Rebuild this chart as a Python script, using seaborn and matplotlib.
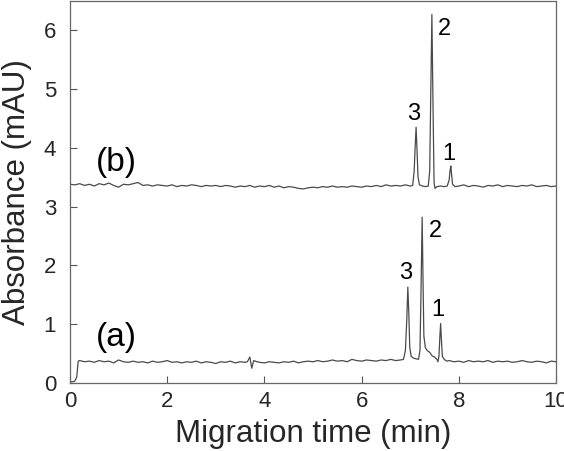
import matplotlib
matplotlib.use("Agg")
import matplotlib.pyplot as plt
import seaborn as sns
import pandas as pd

# trace (a): migration time (min) and absorbance (mAU)
time_a = [0.00, 0.05, 0.10, 0.14, 0.17, 0.20,
          0.3, 0.4, 0.5, 0.6, 0.7, 0.8, 0.9, 1.0, 1.1, 1.2, 1.3, 1.4, 1.5, 1.6, 1.7, 1.8, 1.9,
          2.0, 2.1, 2.2, 2.3, 2.4, 2.5, 2.6, 2.7, 2.8, 2.9, 3.0, 3.1, 3.2, 3.3, 3.4, 3.5, 3.6,
          3.65, 3.70, 3.74, 3.78, 3.85, 3.90,
          4.0, 4.1, 4.2, 4.3, 4.4, 4.5, 4.6, 4.7, 4.8, 4.9, 5.0, 5.1, 5.2, 5.3, 5.4, 5.5, 5.6,
          5.7, 5.8, 5.9, 6.0, 6.1, 6.2, 6.3, 6.4, 6.5, 6.6, 6.7, 6.8,
          6.86, 6.90, 6.93, 6.95, 6.97, 6.99, 7.02, 7.07, 7.12, 7.17,
          7.20, 7.22, 7.245, 7.265, 7.28, 7.31, 7.35, 7.40, 7.45, 7.50, 7.55, 7.57,
          7.59, 7.61, 7.625, 7.64, 7.66, 7.70, 7.75,
          7.8, 7.9, 8.0, 8.1, 8.2, 8.3, 8.4, 8.5, 8.6, 8.7, 8.8, 8.9, 9.0, 9.1, 9.2, 9.3, 9.4,
          9.5, 9.6, 9.7, 9.8, 9.9, 10.0]
abs_a = [0.02, 0.02, 0.03, 0.10, 0.37, 0.38,
         0.36, 0.37, 0.35, 0.38, 0.36, 0.37, 0.34, 0.39, 0.36, 0.35, 0.37, 0.35, 0.36, 0.34, 0.37, 0.35, 0.36,
         0.38, 0.35, 0.36, 0.34, 0.36, 0.35, 0.37, 0.34, 0.36, 0.35, 0.33, 0.36, 0.35, 0.37, 0.34, 0.36, 0.35,
         0.36, 0.44, 0.25, 0.38, 0.36, 0.35,
         0.34, 0.36, 0.35, 0.34, 0.36, 0.35, 0.37, 0.34, 0.36, 0.37, 0.36, 0.38, 0.36, 0.37, 0.39, 0.37, 0.38,
         0.36, 0.40, 0.38, 0.37, 0.39, 0.38, 0.37, 0.39, 0.38, 0.40, 0.38, 0.39,
         0.40, 0.55, 1.10, 1.63, 1.20, 0.60, 0.45, 0.42, 0.41, 0.40,
         0.55, 1.50, 2.82, 1.60, 0.80, 0.60, 0.55, 0.52, 0.46, 0.44, 0.40, 0.36,
         0.45, 0.80, 1.01, 0.75, 0.45, 0.40, 0.37,
         0.38, 0.36, 0.37, 0.35, 0.38, 0.36, 0.37, 0.36, 0.38, 0.35, 0.37, 0.36, 0.37, 0.35, 0.36, 0.38, 0.36,
         0.35, 0.37, 0.36, 0.34, 0.37, 0.36]

# trace (b)
time_b = [0.0, 0.1, 0.2, 0.3, 0.4, 0.5, 0.6, 0.7, 0.8, 0.9, 1.0, 1.1, 1.2, 1.3, 1.4, 1.5, 1.6, 1.7,
          1.8, 1.9, 2.0, 2.1, 2.2, 2.3, 2.4, 2.5, 2.6, 2.7, 2.8, 2.9, 3.0, 3.1, 3.2, 3.3, 3.4, 3.5,
          3.6, 3.7, 3.8, 3.9, 4.0, 4.1, 4.2, 4.3, 4.4, 4.5, 4.6, 4.7, 4.8, 4.9, 5.0, 5.1, 5.2, 5.3,
          5.4, 5.5, 5.6, 5.7, 5.8, 5.9, 6.0, 6.1, 6.2, 6.3, 6.4, 6.5, 6.6, 6.7, 6.8, 6.9, 7.0,
          7.05, 7.08, 7.10, 7.12, 7.14, 7.16, 7.19, 7.25, 7.32, 7.37,
          7.40, 7.42, 7.445, 7.47, 7.49, 7.51, 7.55, 7.62, 7.70, 7.76,
          7.80, 7.82, 7.835, 7.85, 7.87, 7.92,
          8.0, 8.1, 8.2, 8.3, 8.4, 8.5, 8.6, 8.7, 8.8, 8.9, 9.0, 9.1, 9.2, 9.3, 9.4, 9.5, 9.6,
          9.7, 9.8, 9.9, 10.0]
abs_b = [3.38, 3.37, 3.39, 3.36, 3.38, 3.35, 3.39, 3.37, 3.40, 3.36, 3.33, 3.38, 3.37, 3.39, 3.41, 3.36, 3.37, 3.35,
         3.37, 3.36, 3.35, 3.37, 3.34, 3.36, 3.35, 3.37, 3.36, 3.34, 3.36, 3.35, 3.36, 3.34, 3.36, 3.35, 3.33, 3.35,
         3.34, 3.36, 3.33, 3.35, 3.34, 3.36, 3.33, 3.35, 3.32, 3.34, 3.33, 3.31, 3.30, 3.32, 3.33, 3.32, 3.34, 3.33,
         3.35, 3.33, 3.34, 3.33, 3.35, 3.34, 3.33, 3.35, 3.34, 3.36, 3.34, 3.37, 3.35, 3.36, 3.35, 3.37, 3.35,
         3.36, 3.60, 4.00, 4.35, 3.95, 3.50, 3.37, 3.35, 3.34, 3.35,
         3.60, 4.80, 6.27, 4.60, 3.40, 3.31, 3.34, 3.35, 3.34, 3.35,
         3.45, 3.62, 3.69, 3.55, 3.38, 3.34,
         3.35, 3.37, 3.34, 3.36, 3.35, 3.33, 3.36, 3.35, 3.37, 3.34, 3.36, 3.35, 3.34, 3.36, 3.35, 3.37, 3.34,
         3.35, 3.36, 3.34, 3.35]

# peak labels
peak_names = ["3", "2", "1"]
label_t_a = [6.90, 7.52, 7.57]
label_y_a = [1.87, 2.58, 1.24]
label_t_b = [7.07, 7.70, 7.80]
label_y_b = [4.58, 6.02, 3.90]

trace_names = ["(a)", "(b)"]
trace_label_t = [0.95, 0.95]
trace_label_y = [0.78, 3.75]

sns.set_style("ticks")
plt.rcParams["font.family"] = ["Liberation Sans", "DejaVu Sans"]
plt.rcParams["xtick.direction"] = "in"
plt.rcParams["ytick.direction"] = "in"

df_a = pd.DataFrame({"t": time_a, "A": abs_a})
df_b = pd.DataFrame({"t": time_b, "A": abs_b})

fig = plt.figure(figsize=(5.64, 4.51), dpi=100)
ax = fig.add_axes([0.124, 0.151, 0.862, 0.847])

line_col = "#4a4a4a"
sns.lineplot(data=df_a, x="t", y="A", ax=ax, color=line_col, lw=0.9,
             sort=False, estimator=None)
sns.lineplot(data=df_b, x="t", y="A", ax=ax, color=line_col, lw=0.9,
             sort=False, estimator=None)

for name, t, y in zip(peak_names, label_t_a, label_y_a):
    ax.text(t, y, name, fontsize=17, ha="center", va="center", color="black")
for name, t, y in zip(peak_names, label_t_b, label_y_b):
    ax.text(t, y, name, fontsize=17, ha="center", va="center", color="black")
for name, t, y in zip(trace_names, trace_label_t, trace_label_y):
    ax.text(t, y, name, fontsize=24, ha="center", va="center", color="black")

ax.set_xlim(0, 10)
ax.set_ylim(0, 6.5)
ax.set_xticks([0, 2, 4, 6, 8, 10])
ax.set_yticks([0, 1, 2, 3, 4, 5, 6])
ax.tick_params(labelsize=16, length=5, width=0.8, color="#555555")
ax.tick_params(axis="x", pad=6)
ax.tick_params(axis="y", pad=10)
ax.set_xlabel("Migration time (min)", fontsize=22.5, labelpad=5)
ax.set_ylabel("Absorbance (mAU)", fontsize=22.5, labelpad=8)
for s in ax.spines.values():
    s.set_visible(True)
    s.set_color("#666666")
    s.set_linewidth(0.9)

fig.savefig("out.png", dpi=100)
